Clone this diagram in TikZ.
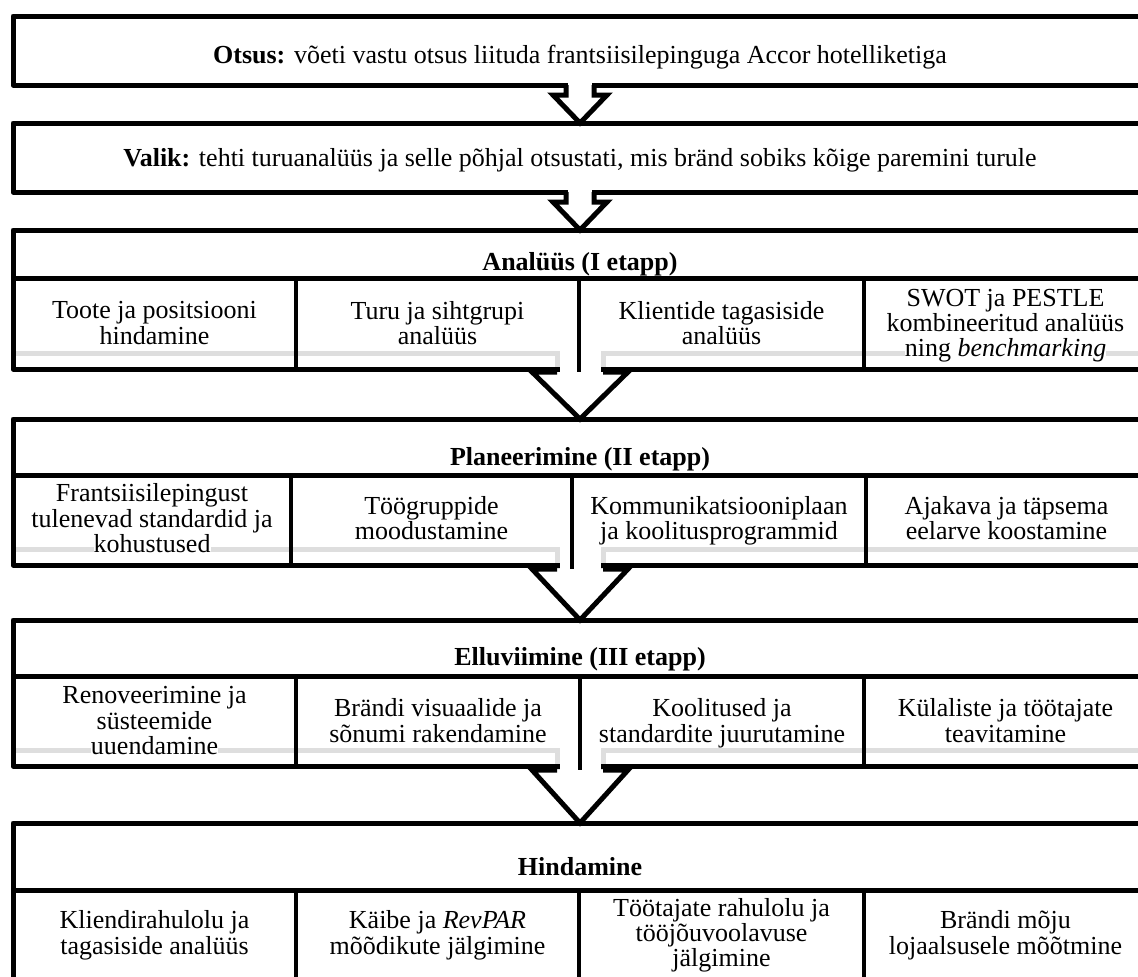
\documentclass[tikz,border=0pt]{standalone}
\usepackage{fontspec}
\setmainfont{LiberationSerif}[Extension=.ttf, UprightFont=*-Regular, BoldFont=*-Bold, ItalicFont=*-Italic, BoldItalicFont=*-BoldItalic]
\usetikzlibrary{calc}
\definecolor{gline}{RGB}{222,222,222}
\newcommand{\wl}[1]{{\setlength{\fboxsep}{0pt}\colorbox{white}{\rule[-4.5pt]{0pt}{13.5pt}#1}}}
\tikzset{
  box/.style={draw, line width=3.75pt, line join=round, inner sep=0pt, outer sep=0pt, minimum width=850.5pt},
  txt/.style={align=center, inner sep=0pt, font=\fontsize{19.5}{19}\selectfont},
  sep/.style={line width=3pt},
  hsep/.style={line width=3.75pt},
  graybar/.style={draw=gline, line width=3.75pt, line join=miter},
  arr/.style={line width=3.75pt, line join=miter},
}
\begin{document}
\begin{tikzpicture}[x=0.75pt,y=-0.75pt]
\useasboundingbox (0,0) rectangle (1138,976);
\clip (0,0) rectangle (1138,976);

% grey outlines behind the tables
\draw[graybar] (13,353) -- (557,353) -- (557,372);
\draw[graybar] (603,372) -- (603,353) -- (1145,353);
\draw[graybar] (13,549) -- (557,549) -- (557,569);
\draw[graybar] (603,569) -- (603,549) -- (1145,549);
\draw[graybar] (13,750) -- (557,750) -- (557,770);
\draw[graybar] (603,770) -- (603,750) -- (1145,750);

% boxes
\node[box, minimum height=69*0.75pt] (b1) at (580,50.5) {};
\node[box, minimum height=69*0.75pt] (b2) at (580,157.5) {};
\node[box, minimum height=139*0.75pt] (s1) at (580,299.5) {};
\node[box, minimum height=146*0.75pt] (s2) at (580,492) {};
\node[box, minimum height=146*0.75pt] (s3) at (580,693) {};
\node[box, minimum height=177*0.75pt] (s4) at (580,911.5) {};

% table rules
\draw[hsep] (13,278) -- (1147,278);
\draw[sep] (296,278) -- (296,369) (579,278) -- (579,369) (864,278) -- (864,369);
\draw[hsep] (13,475) -- (1147,475);
\draw[sep] (291,475) -- (291,565) (572,475) -- (572,565) (866,475) -- (866,565);
\draw[hsep] (13,676) -- (1147,676);
\draw[sep] (296,676) -- (296,766) (580,676) -- (580,766) (864,676) -- (864,766);
\draw[hsep] (13,890) -- (1147,890);
\draw[sep] (296,890) -- (296,990) (579,890) -- (579,990) (864,890) -- (864,990);

% texts
\node[txt] (t1) at (580,57) {\wl{\textbf{Otsus:} võeti vastu otsus liituda frantsiisilepinguga Accor hotelliketiga}};
\node[txt] (t2) at (580,160) {\wl{\textbf{Valik:} tehti turuanalüüs ja selle põhjal otsustati, mis bränd sobiks kõige paremini turule}};

\node[txt] (h1) at (580,264) {\wl{\textbf{Analüüs (I etapp)}}};
\node[txt] (c11) at (154.5,326) {\wl{Toote ja positsiooni}\\\wl{hindamine}};
\node[txt] (c12) at (437.5,326) {\wl{Turu ja sihtgrupi}\\\wl{analüüs}};
\node[txt] (c13) at (721.5,326) {\wl{Klientide tagasiside}\\\wl{analüüs}};
\node[txt] (c14) at (1005.5,326) {\wl{SWOT ja PESTLE}\\\wl{kombineeritud analüüs}\\\wl{ning \textit{benchmarking}}};

\node[txt] (h2) at (580,459) {\wl{\textbf{Planeerimine (II etapp)}}};
\node[txt] (c21) at (152,521) {\wl{Frantsiisilepingust}\\\wl{tulenevad standardid ja}\\\wl{kohustused}};
\node[txt] (c22) at (431.5,521) {\wl{Töögruppide}\\\wl{moodustamine}};
\node[txt] (c23) at (719,521) {\wl{Kommunikatsiooniplaan}\\\wl{ja koolitusprogrammid}};
\node[txt] (c24) at (1006.5,521) {\wl{Ajakava ja täpsema}\\\wl{eelarve koostamine}};

\node[txt] (h3) at (580,659) {\wl{\textbf{Elluviimine (III etapp)}}};
\node[txt] (c31) at (154.5,723.5) {\wl{Renoveerimine ja}\\\wl{süsteemide}\\\wl{uuendamine}};
\node[txt] (c32) at (438,723.5) {\wl{Brändi visuaalide ja}\\\wl{sõnumi rakendamine}};
\node[txt] (c33) at (722,723.5) {\wl{Koolitused ja}\\\wl{standardite juurutamine}};
\node[txt] (c34) at (1005.5,723.5) {\wl{Külaliste ja töötajate}\\\wl{teavitamine}};

\node[txt] (h4) at (580,869) {\wl{\textbf{Hindamine}}};
\node[txt] (c41) at (154.5,935.5) {\wl{Kliendirahulolu ja}\\\wl{tagasiside analüüs}};
\node[txt] (c42) at (437.5,935.5) {\wl{Käibe ja \textit{RevPAR}}\\\wl{mõõdikute jälgimine}};
\node[txt] (c43) at (721.5,935.5) {\wl{Töötajate rahulolu ja}\\\wl{tööjõuvoolavuse}\\\wl{jälgimine}};
\node[txt] (c44) at (1005.5,935.5) {\wl{Brändi mõju}\\\wl{lojaalsusele mõõtmine}};

% small block arrows
\fill[white] ($(b1.south)+(-12,-3)$) rectangle ($(b1.south)+(12,3)$);
\draw[arr] ($(b1.south)+(-14,0)$) -- ++(0,10) -- ++(-13,0) -- (b2.north) -- ($(b1.south)+(27,10)$) -- ++(-13,0) -- ++(0,-10);
\fill[white] ($(b2.south)+(-12,-3)$) rectangle ($(b2.south)+(12,3)$);
\draw[arr] ($(b2.south)+(-14,0)$) -- ++(0,10) -- ++(-13,0) -- (s1.north) -- ($(b2.south)+(27,10)$) -- ++(-13,0) -- ++(0,-10);

% big arrow heads
\fill[white] (559.5,362) rectangle (600.5,374);
\draw[sep] (579,278) -- (579,372);
\fill[white] ($(s1.south)+(-48,3)$) -- (s2.north) -- ($(s1.south)+(48,3)$) -- cycle;
\draw[arr] ($(s1.south)+(-23,3)$) -- ($(s1.south)+(-48,3)$) -- (s2.north) -- ($(s1.south)+(48,3)$) -- ($(s1.south)+(23,3)$);

\fill[white] (559.5,558) rectangle (600.5,571);
\draw[sep] (572,475) -- (572,569);
\fill[white] ($(s2.south)+(-48,4)$) -- (s3.north) -- ($(s2.south)+(48,4)$) -- cycle;
\draw[arr] ($(s2.south)+(-23,4)$) -- ($(s2.south)+(-48,4)$) -- (s3.north) -- ($(s2.south)+(48,4)$) -- ($(s2.south)+(23,4)$);

\fill[white] (559.5,759) rectangle (600.5,772);
\draw[sep] (580,676) -- (580,770);
\fill[white] ($(s3.south)+(-48,4)$) -- (s4.north) -- ($(s3.south)+(48,4)$) -- cycle;
\draw[arr] ($(s3.south)+(-23,4)$) -- ($(s3.south)+(-48,4)$) -- (s4.north) -- ($(s3.south)+(48,4)$) -- ($(s3.south)+(23,4)$);
\end{tikzpicture}
\end{document}
